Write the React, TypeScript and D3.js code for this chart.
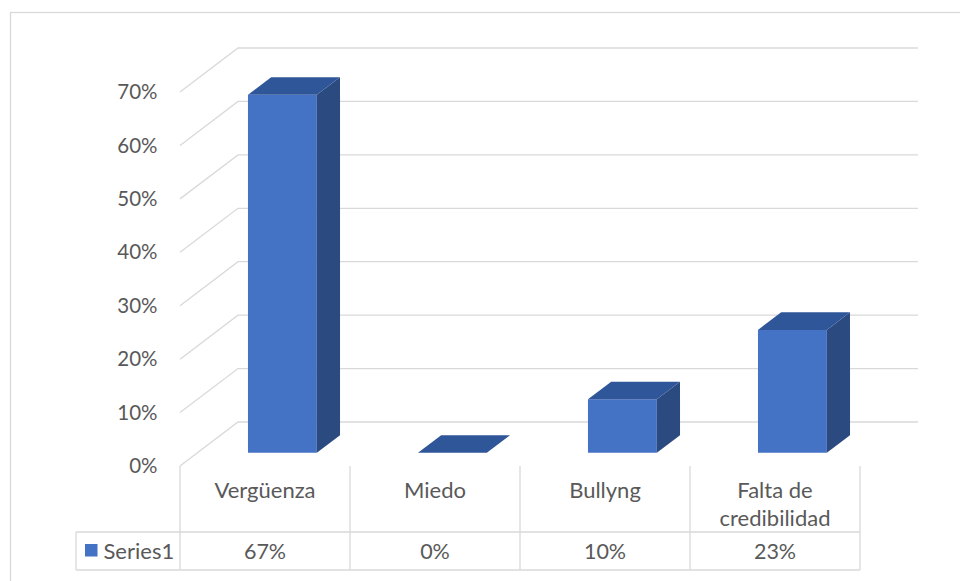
import React from "react";
import * as d3 from "d3";

const categories = ["Vergüenza", "Miedo", "Bullyng", "Falta de credibilidad"];
const categoryLines = [["Vergüenza"], ["Miedo"], ["Bullyng"], ["Falta de", "credibilidad"]];
const values = [0.67, 0, 0.1, 0.23];
const valueLabels = ["67%", "0%", "10%", "23%"];
const yTicks = [0, 0.1, 0.2, 0.3, 0.4, 0.5, 0.6, 0.7];
const seriesName = "Series1";

const W = 960;
const H = 581;
const FONT = "Lato, 'Open Sans', sans-serif";
const TEXT = "#595959";
const GRID = "#d9d9d9";

export default function App() {
  const x0 = 180;
  const x1 = 860;
  const floorY = 466;
  const depthDx = 58;
  const depthDy = -44;
  const x = d3.scaleBand<string>().domain(categories).range([x0, x1]).paddingInner(0).paddingOuter(0);
  const h = d3.scaleLinear().domain([0, 0.7]).range([0, 374]);

  const P = (px: number, d: number, hp: number): [number, number] => [px + depthDx * d, floorY + depthDy * d - hp];
  const pts = (arr: [number, number][]) => arr.map((p) => p.join(",")).join(" ");

  const barFrac = 0.405;
  const dFront = 0.3;
  const dBack = 0.7;

  const tableTop = 466;
  const rowTop = 532;
  const tableBottom = 570;
  const legendLeft = 76;

  return (
    <svg width={W} height={H} style={{ position: "absolute", left: 0, top: 0, background: "#fff" }}>
      <rect x={10.5} y={12.5} width={1000} height={1000} fill="#fff" stroke={GRID} strokeWidth={1.3} />
      {yTicks.map((t) => {
        const a = P(x0, 0, h(t));
        const b = P(x0, 1, h(t));
        const c = P(x1, 1, h(t));
        return (
          <g key={t}>
            <polyline points={pts([a, b, c])} fill="none" stroke={GRID} strokeWidth={1.3} />
            <text x={157.5} y={a[1]} dy="0.35em" textAnchor="end" fontFamily={FONT} fontSize={20.5} fill={TEXT}>
              {d3.format(".0%")(t)}
            </text>
          </g>
        );
      })}
      {categories.map((c, i) => {
        const bw = x.bandwidth() * barFrac;
        const cx = (x(c) as number) + x.bandwidth() / 2;
        const l = cx - bw / 2;
        const r = cx + bw / 2;
        const hp = h(values[i]);
        const fbl = P(l, dFront, 0);
        const fbr = P(r, dFront, 0);
        const ftl = P(l, dFront, hp);
        const ftr = P(r, dFront, hp);
        const btl = P(l, dBack, hp);
        const btr = P(r, dBack, hp);
        const bbr = P(r, dBack, 0);
        return (
          <g key={c}>
            {hp > 0 && <polygon points={pts([fbl, fbr, ftr, ftl])} fill="#4472c4" />}
            {hp > 0 && <polygon points={pts([fbr, bbr, btr, ftr])} fill="#2b4a80" />}
            <polygon points={pts([ftl, ftr, btr, btl])} fill="#30569a" />
          </g>
        );
      })}
      {/* data table */}
      {[x0, ...categories.map((c) => (x(c) as number) + x.bandwidth())].map((vx, i) => (
        <line key={i} x1={vx} x2={vx} y1={tableTop} y2={tableBottom} stroke={GRID} strokeWidth={1.3} />
      ))}
      <line x1={legendLeft} x2={legendLeft} y1={rowTop} y2={tableBottom} stroke={GRID} strokeWidth={1.3} />
      <line x1={legendLeft} x2={x1} y1={rowTop} y2={rowTop} stroke={GRID} strokeWidth={1.3} />
      <line x1={legendLeft} x2={x1} y1={tableBottom} y2={tableBottom} stroke={GRID} strokeWidth={1.3} />
      {categories.map((c, i) => {
        const cx = (x(c) as number) + x.bandwidth() / 2;
        const lines = categoryLines[i];
        const startY = lines.length === 1 ? 490 : 490.5;
        return (
          <g key={c}>
            {lines.map((ln, j) => (
              <text key={j} x={cx} y={startY + j * 27.5} dy="0.35em" textAnchor="middle" fontFamily={FONT} fontSize={22} fill={TEXT}>
                {ln}
              </text>
            ))}
            <text x={cx} y={551.5} dy="0.35em" textAnchor="middle" fontFamily={FONT} fontSize={21.5} fill={TEXT}>
              {valueLabels[i]}
            </text>
          </g>
        );
      })}
      <rect x={85} y={544} width={12.5} height={12.5} fill="#4472c4" />
      <text x={103.5} y={551.5} dy="0.35em" fontFamily={FONT} fontSize={22} fill={TEXT}>
        {seriesName}
      </text>
    </svg>
  );
}
